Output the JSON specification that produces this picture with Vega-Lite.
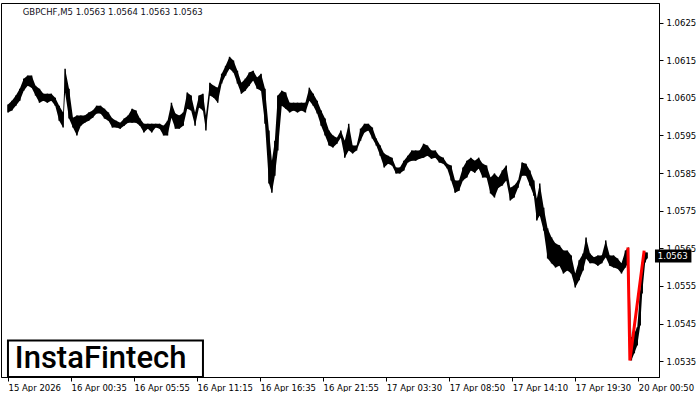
{
  "$schema": "https://vega.github.io/schema/vega-lite/v6.json",
  "width": 658,
  "height": 374,
  "padding": {"left": 1, "top": 3, "right": 0, "bottom": 0},
  "background": "white",
  "config": {
    "view": {"stroke": "black", "strokeWidth": 1},
    "axis": {"labelFont": "DejaVu Sans", "labelFontSize": 8.5, "labelColor": "black", "tickColor": "black", "domainColor": "black", "grid": false, "title": null, "tickSize": 4}
  },
  "datasets": {
    "bars": [
      {"x":3,"hi":1.06032,"lo":1.06011},{"x":7,"hi":1.06042,"lo":1.06016},{"x":11,"hi":1.06056,"lo":1.06029},{"x":15,"hi":1.06074,"lo":1.06042},
      {"x":19,"hi":1.06101,"lo":1.06069},{"x":23,"hi":1.06109,"lo":1.06082},{"x":27,"hi":1.06109,"lo":1.06077},{"x":31,"hi":1.06082,"lo":1.06056},
      {"x":35,"hi":1.06074,"lo":1.06037},{"x":39,"hi":1.06061,"lo":1.06042},{"x":43,"hi":1.06061,"lo":1.06037},{"x":47,"hi":1.06061,"lo":1.06042},
      {"x":51,"hi":1.06050,"lo":1.06029},{"x":55,"hi":1.06029,"lo":1.05989},{"x":59,"hi":1.06011,"lo":1.05971},{"x":61,"hi":1.06127,"lo":1.06064},
      {"x":65,"hi":1.06074,"lo":1.05995},{"x":69,"hi":1.05997,"lo":1.05971},{"x":73,"hi":1.06003,"lo":1.05950},{"x":77,"hi":1.06003,"lo":1.05976},
      {"x":81,"hi":1.06003,"lo":1.05984},{"x":85,"hi":1.06011,"lo":1.05989},{"x":89,"hi":1.06016,"lo":1.05997},{"x":93,"hi":1.06029,"lo":1.06008},
      {"x":97,"hi":1.06029,"lo":1.06008},{"x":101,"hi":1.06021,"lo":1.05995},{"x":105,"hi":1.06011,"lo":1.05989},{"x":109,"hi":1.05995,"lo":1.05971},
      {"x":113,"hi":1.05989,"lo":1.05971},{"x":117,"hi":1.05984,"lo":1.05968},{"x":121,"hi":1.05995,"lo":1.05976},{"x":125,"hi":1.06003,"lo":1.05984},
      {"x":129,"hi":1.06021,"lo":1.05984},{"x":133,"hi":1.06016,"lo":1.05984},{"x":137,"hi":1.05995,"lo":1.05976},{"x":141,"hi":1.05981,"lo":1.05958},
      {"x":145,"hi":1.05981,"lo":1.05968},{"x":149,"hi":1.05981,"lo":1.05958},{"x":153,"hi":1.05981,"lo":1.05971},{"x":157,"hi":1.05981,"lo":1.05968},
      {"x":161,"hi":1.05976,"lo":1.05950},{"x":165,"hi":1.05989,"lo":1.05950},{"x":169,"hi":1.06037,"lo":1.05997},{"x":173,"hi":1.06008,"lo":1.05968},
      {"x":177,"hi":1.06003,"lo":1.05968},{"x":181,"hi":1.06011,"lo":1.05976},{"x":185,"hi":1.06064,"lo":1.06021},{"x":189,"hi":1.06056,"lo":1.06016},
      {"x":193,"hi":1.06011,"lo":1.05976},{"x":197,"hi":1.06056,"lo":1.06024},{"x":201,"hi":1.06061,"lo":1.06016},{"x":204,"hi":1.06003,"lo":1.05963},
      {"x":208,"hi":1.06090,"lo":1.06056},{"x":212,"hi":1.06082,"lo":1.06050},{"x":216,"hi":1.06077,"lo":1.06037},{"x":220,"hi":1.06114,"lo":1.06088},
      {"x":224,"hi":1.06135,"lo":1.06109},{"x":228,"hi":1.06159,"lo":1.06127},{"x":232,"hi":1.06149,"lo":1.06117},{"x":236,"hi":1.06122,"lo":1.06088},
      {"x":240,"hi":1.06090,"lo":1.06061},{"x":244,"hi":1.06101,"lo":1.06069},{"x":248,"hi":1.06117,"lo":1.06082},{"x":252,"hi":1.06122,"lo":1.06096},
      {"x":256,"hi":1.06104,"lo":1.06074},{"x":260,"hi":1.06114,"lo":1.06069},{"x":264,"hi":1.06074,"lo":1.05981},{"x":268,"hi":1.05963,"lo":1.05822},
      {"x":271,"hi":1.05883,"lo":1.05798},{"x":274,"hi":1.05936,"lo":1.05843},{"x":277,"hi":1.06056,"lo":1.05910},{"x":281,"hi":1.06069,"lo":1.06029},
      {"x":285,"hi":1.06064,"lo":1.06021},{"x":289,"hi":1.06037,"lo":1.06011},{"x":293,"hi":1.06037,"lo":1.06016},{"x":297,"hi":1.06037,"lo":1.06011},
      {"x":301,"hi":1.06037,"lo":1.06016},{"x":305,"hi":1.06037,"lo":1.06011},{"x":309,"hi":1.06077,"lo":1.06042},{"x":313,"hi":1.06061,"lo":1.06029},
      {"x":317,"hi":1.06042,"lo":1.06008},{"x":321,"hi":1.06016,"lo":1.05976},{"x":325,"hi":1.05995,"lo":1.05950},{"x":329,"hi":1.05963,"lo":1.05923},
      {"x":333,"hi":1.05950,"lo":1.05918},{"x":337,"hi":1.05944,"lo":1.05928},{"x":341,"hi":1.05963,"lo":1.05944},{"x":345,"hi":1.05936,"lo":1.05891},
      {"x":349,"hi":1.05981,"lo":1.05910},{"x":353,"hi":1.05923,"lo":1.05902},{"x":357,"hi":1.05923,"lo":1.05910},{"x":361,"hi":1.05968,"lo":1.05936},
      {"x":365,"hi":1.05981,"lo":1.05958},{"x":369,"hi":1.05981,"lo":1.05963},{"x":373,"hi":1.05971,"lo":1.05942},{"x":377,"hi":1.05942,"lo":1.05923},
      {"x":381,"hi":1.05923,"lo":1.05896},{"x":385,"hi":1.05902,"lo":1.05865},{"x":389,"hi":1.05896,"lo":1.05875},{"x":393,"hi":1.05891,"lo":1.05870},
      {"x":397,"hi":1.05865,"lo":1.05849},{"x":401,"hi":1.05865,"lo":1.05849},{"x":405,"hi":1.05883,"lo":1.05857},{"x":409,"hi":1.05896,"lo":1.05878},
      {"x":413,"hi":1.05910,"lo":1.05883},{"x":417,"hi":1.05910,"lo":1.05883},{"x":421,"hi":1.05910,"lo":1.05888},{"x":425,"hi":1.05928,"lo":1.05891},
      {"x":429,"hi":1.05923,"lo":1.05896},{"x":433,"hi":1.05910,"lo":1.05888},{"x":437,"hi":1.05910,"lo":1.05891},{"x":441,"hi":1.05896,"lo":1.05878},
      {"x":445,"hi":1.05891,"lo":1.05875},{"x":449,"hi":1.05875,"lo":1.05862},{"x":453,"hi":1.05870,"lo":1.05830},{"x":457,"hi":1.05830,"lo":1.05798},
      {"x":461,"hi":1.05830,"lo":1.05803},{"x":465,"hi":1.05865,"lo":1.05830},{"x":469,"hi":1.05883,"lo":1.05838},{"x":473,"hi":1.05891,"lo":1.05857},
      {"x":477,"hi":1.05883,"lo":1.05851},{"x":481,"hi":1.05891,"lo":1.05862},{"x":485,"hi":1.05875,"lo":1.05838},{"x":489,"hi":1.05870,"lo":1.05838},
      {"x":493,"hi":1.05838,"lo":1.05796},{"x":497,"hi":1.05849,"lo":1.05785},{"x":501,"hi":1.05838,"lo":1.05811},{"x":505,"hi":1.05857,"lo":1.05817},
      {"x":509,"hi":1.05870,"lo":1.05830},{"x":513,"hi":1.05811,"lo":1.05777},{"x":517,"hi":1.05817,"lo":1.05785},{"x":521,"hi":1.05830,"lo":1.05811},
      {"x":525,"hi":1.05878,"lo":1.05843},{"x":529,"hi":1.05875,"lo":1.05843},{"x":533,"hi":1.05857,"lo":1.05817},{"x":537,"hi":1.05830,"lo":1.05790},
      {"x":540,"hi":1.05782,"lo":1.05724},{"x":543,"hi":1.05822,"lo":1.05737},{"x":547,"hi":1.05758,"lo":1.05697},{"x":551,"hi":1.05703,"lo":1.05623},
      {"x":555,"hi":1.05679,"lo":1.05610},{"x":559,"hi":1.05663,"lo":1.05599},{"x":563,"hi":1.05658,"lo":1.05604},{"x":567,"hi":1.05644,"lo":1.05583},
      {"x":571,"hi":1.05644,"lo":1.05591},{"x":575,"hi":1.05631,"lo":1.05583},{"x":579,"hi":1.05583,"lo":1.05546},{"x":583,"hi":1.05618,"lo":1.05565},
      {"x":587,"hi":1.05636,"lo":1.05591},{"x":590,"hi":1.05679,"lo":1.05623},{"x":594,"hi":1.05636,"lo":1.05610},{"x":598,"hi":1.05626,"lo":1.05610},
      {"x":602,"hi":1.05631,"lo":1.05604},{"x":606,"hi":1.05631,"lo":1.05610},{"x":610,"hi":1.05671,"lo":1.05626},{"x":614,"hi":1.05631,"lo":1.05604},
      {"x":618,"hi":1.05631,"lo":1.05599},{"x":622,"hi":1.05623,"lo":1.05596},{"x":626,"hi":1.05610,"lo":1.05583},{"x":630,"hi":1.05644,"lo":1.05599},
      {"x":633,"hi":1.05652,"lo":1.05612},{"x":636,"hi":1.05413,"lo":1.05352},{"x":639,"hi":1.05424,"lo":1.05371},{"x":642,"hi":1.05440,"lo":1.05392},
      {"x":645,"hi":1.05538,"lo":1.05445},{"x":647,"hi":1.05612,"lo":1.05530},{"x":650,"hi":1.05639,"lo":1.05612},{"x":652,"hi":1.05639,"lo":1.05623}
    ]
  },
  "layer": [
    {
      "data": {"name": "bars"},
      "mark": {"type": "area", "color": "black", "opacity": 1, "interpolate": "linear"},
      "encoding": {
        "x": {"field": "x", "type": "quantitative", "scale": {"domain": [1, 659], "nice": false, "zero": false},
          "axis": {"values": [3, 67, 131, 195, 259, 323, 387, 451, 515, 579, 643], "labelAlign": "left", "labelDx": 1, "labelPadding": 2,
            "labelExpr": "['15 Apr 2026','16 Apr 00:35','16 Apr 05:55','16 Apr 11:15','16 Apr 16:35','16 Apr 21:55','17 Apr 03:30','17 Apr 08:50','17 Apr 14:10','17 Apr 19:30','20 Apr 00:50'][round((datum.value-3)/64)]"}},
        "y": {"field": "hi", "type": "quantitative", "scale": {"domain": [1.05308, 1.06302], "nice": false, "zero": false},
          "axis": {"orient": "right", "values": [1.0535, 1.0545, 1.0555, 1.0565, 1.0575, 1.0585, 1.0595, 1.0605, 1.0615, 1.0625], "format": ".4f", "labelPadding": 3}},
        "y2": {"field": "lo"}
      }
    },
    {
      "data": {"name": "bars"},
      "mark": {"type": "bar", "width": 1.5, "color": "black"},
      "encoding": {
        "x": {"field": "x", "type": "quantitative"},
        "y": {"field": "hi", "type": "quantitative"},
        "y2": {"field": "lo"}
      }
    },
    {
      "mark": {"type": "rule", "color": "black", "strokeWidth": 1},
      "encoding": {"y": {"datum": 1.0563}}
    },
    {
      "data": {"values": [{"x": 632.5, "p": 1.05652}, {"x": 634.5, "p": 1.05352}, {"x": 649, "p": 1.05644}]},
      "mark": {"type": "line", "color": "#ff0000", "strokeWidth": 3},
      "encoding": {"x": {"field": "x", "type": "quantitative"}, "y": {"field": "p", "type": "quantitative"}, "order": {"field": "x"}}
    },
    {
      "data": {"values": [{"x1": 660, "x2": 697, "p1": 1.05647, "p2": 1.05612}]},
      "mark": {"type": "rect", "color": "black"},
      "encoding": {"x": {"field": "x1", "type": "quantitative"}, "x2": {"field": "x2"}, "y": {"field": "p1", "type": "quantitative"}, "y2": {"field": "p2"}}
    },
    {
      "data": {"values": [{"x": 678, "p": 1.0563, "t": "1.0563"}]},
      "mark": {"type": "text", "color": "white", "font": "DejaVu Sans", "fontSize": 8.5, "align": "center", "baseline": "middle"},
      "encoding": {"x": {"field": "x", "type": "quantitative"}, "y": {"field": "p", "type": "quantitative"}, "text": {"field": "t"}}
    },
    {
      "data": {"values": [{"x1": 3, "x2": 201, "p1": 1.05405, "p2": 1.05308}]},
      "mark": {"type": "rect", "fill": "white", "stroke": "black", "strokeWidth": 2},
      "encoding": {"x": {"field": "x1", "type": "quantitative"}, "x2": {"field": "x2"}, "y": {"field": "p1", "type": "quantitative"}, "y2": {"field": "p2"}}
    },
    {
      "data": {"values": [{"x": 10, "p": 1.05355, "t": "InstaFintech"}]},
      "mark": {"type": "text", "color": "black", "font": "Roboto", "fontSize": 31, "fontWeight": 500, "align": "left", "baseline": "middle"},
      "encoding": {"x": {"field": "x", "type": "quantitative"}, "y": {"field": "p", "type": "quantitative"}, "text": {"field": "t"}}
    },
    {
      "data": {"values": [{"x": 18, "p": 1.06279, "t": "GBPCHF,M5  1.0563 1.0564 1.0563 1.0563"}]},
      "mark": {"type": "text", "color": "#101020", "font": "DejaVu Sans", "fontSize": 8.5, "align": "left", "baseline": "middle"},
      "encoding": {"x": {"field": "x", "type": "quantitative"}, "y": {"field": "p", "type": "quantitative"}, "text": {"field": "t"}}
    }
  ]
}
